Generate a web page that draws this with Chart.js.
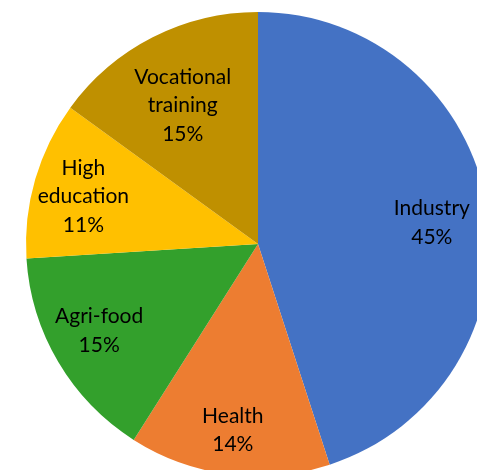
<!DOCTYPE html>
<html>
<head>
<meta charset="utf-8">
<script src="https://cdn.jsdelivr.net/npm/chart.js@4/dist/chart.umd.min.js"></script>
<style>
  html, body { margin: 0; padding: 0; background: #fff; overflow: hidden; }
  #wrap { width: 477px; height: 470px; overflow: hidden; position: relative; }
  canvas { position: absolute; left: 0; top: 0; }
</style>
</head>
<body>
<div id="wrap"><canvas id="pieChart" width="516" height="488"></canvas></div>
<script>
const categories = ["Industry", "Health", "Agri-food", "High education", "Vocational training"];
const labelLines = [["Industry"], ["Health"], ["Agri-food"], ["High", "education"], ["Vocational", "training"]];
const shares = [45, 14, 15, 11, 15];
const colors = ["#4472C4", "#ED7D31", "#33A02C", "#FFC000", "#BF9000"];

// label placement: fraction of radius, and a small turn (degrees) off the slice middle
const labelRadius = [0.755, 0.81, 0.78, 0.78, 0.68];
const labelTurn = [2, 0.5, 2, -1, -1.5];

// draw "name / xx%" labels inside the slices
const sliceLabels = {
  id: "sliceLabels",
  afterDatasetsDraw(chart) {
    const { ctx } = chart;
    const meta = chart.getDatasetMeta(0);
    ctx.save();
    ctx.font = "21px Lato, 'Open Sans', sans-serif";
    ctx.fillStyle = "#000";
    ctx.textAlign = "center";
    ctx.textBaseline = "middle";
    const lh = 28.5;
    meta.data.forEach((arc, i) => {
      const mid = (arc.startAngle + arc.endAngle) / 2 + labelTurn[i] * Math.PI / 180;
      const r = arc.outerRadius * labelRadius[i];
      const x = arc.x + Math.cos(mid) * r;
      const y = arc.y + Math.sin(mid) * r;
      const lines = labelLines[i].concat([shares[i] + "%"]);
      const top = y - (lines.length - 1) * lh / 2;
      lines.forEach((t, j) => ctx.fillText(t, x, top + j * lh));
    });
    ctx.restore();
  }
};

new Chart(document.getElementById("pieChart"), {
  type: "pie",
  data: {
    labels: categories,
    datasets: [{
      data: shares,
      backgroundColor: colors,
      borderWidth: 0
    }]
  },
  options: {
    responsive: false,
    animation: false,
    layout: { padding: { left: 26, right: 26, top: 12, bottom: 12 } },
    plugins: {
      legend: { display: false },
      tooltip: { enabled: false }
    }
  },
  plugins: [sliceLabels]
});
</script>
</body>
</html>
